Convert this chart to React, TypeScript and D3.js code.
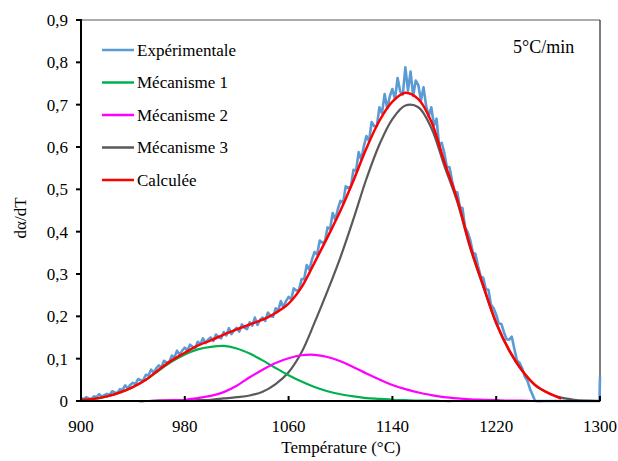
import React from "react";
import * as d3 from "d3";

// ---------- DATA ----------
const xTicks = [900, 980, 1060, 1140, 1220, 1300];
const yTicks = [0, 0.1, 0.2, 0.3, 0.4, 0.5, 0.6, 0.7, 0.8, 0.9];
const yTickLabels = ["0", "0,1", "0,2", "0,3", "0,4", "0,5", "0,6", "0,7", "0,8", "0,9"];

const seriesNames = ["Expérimentale", "Mécanisme 1", "Mécanisme 2", "Mécanisme 3", "Calculée"];
const seriesColors = ["#5B9BD5", "#00B050", "#FF00FF", "#595959", "#FF0000"];

// Temperature grid for model curves (°C)
const modelT = [900, 910, 920, 930, 940, 950, 960, 970, 980, 990,
  1000, 1010, 1020, 1030, 1040, 1050, 1060, 1070, 1080, 1090,
  1100, 1110, 1120, 1130, 1140, 1150, 1160, 1170, 1180, 1190,
  1200, 1210, 1220, 1230, 1240, 1250, 1260, 1270, 1280, 1290, 1300];

const mech1 = [0.002, 0.005, 0.011, 0.020, 0.033, 0.050, 0.072, 0.093, 0.110, 0.122,
  0.128, 0.130, 0.124, 0.112, 0.096, 0.078, 0.061, 0.046, 0.033, 0.023,
  0.016, 0.011, 0.007, 0.005, 0.003, 0.002, 0.001, 0.001, 0, 0,
  0, 0, 0, 0, 0, 0, 0, 0];

const mech2 = [0, 0, 0, 0, 0, 0, 0.001, 0.002, 0.003, 0.007,
  0.012, 0.021, 0.036, 0.056, 0.074, 0.090, 0.101, 0.108, 0.109, 0.104,
  0.094, 0.080, 0.065, 0.051, 0.038, 0.028, 0.020, 0.014, 0.009, 0.006,
  0.004, 0.003, 0.002, 0.001, 0.001, 0, 0, 0];

const mech3 = [0, 0, 0, 0, 0, 0, 0.001, 0.001, 0.001, 0.002,
  0.003, 0.006, 0.009, 0.013, 0.022, 0.040, 0.068, 0.115, 0.185, 0.260,
  0.340, 0.430, 0.525, 0.606, 0.666, 0.698, 0.694, 0.645, 0.556, 0.470,
  0.361, 0.270, 0.183, 0.119, 0.071, 0.037, 0.019, 0.008, 0.003, 0.001, 0];

const calc = [0.003, 0.005, 0.011, 0.020, 0.033, 0.050, 0.074, 0.096, 0.114, 0.131,
  0.143, 0.157, 0.169, 0.181, 0.192, 0.208, 0.230, 0.269, 0.327, 0.387,
  0.450, 0.521, 0.597, 0.662, 0.707, 0.728, 0.713, 0.660, 0.565, 0.476,
  0.365, 0.273, 0.185, 0.120, 0.072, 0.038, 0.019, 0.006];

// Experimental signal, sampled every 2 °C from 900 °C to 1250 °C
const expStart = 900;
const expStep = 2;
const expValues = [
  0.007, 0.004, 0.009, 0.006, 0.005, 0.011, 0.009, 0.016, 0.010, 0.014,
  0.017, 0.014, 0.023, 0.020, 0.019, 0.028, 0.026, 0.037, 0.030, 0.038,
  0.043, 0.040, 0.052, 0.049, 0.049, 0.062, 0.060, 0.074, 0.067, 0.077,
  0.084, 0.079, 0.095, 0.091, 0.092, 0.107, 0.103, 0.119, 0.109, 0.119,
  0.126, 0.120, 0.133, 0.128, 0.126, 0.140, 0.134, 0.148, 0.137, 0.145,
  0.150, 0.142, 0.157, 0.151, 0.148, 0.163, 0.155, 0.172, 0.158, 0.167,
  0.173, 0.164, 0.181, 0.173, 0.170, 0.186, 0.178, 0.197, 0.180, 0.192,
  0.197, 0.189, 0.209, 0.201, 0.199, 0.219, 0.214, 0.236, 0.221, 0.236,
  0.246, 0.240, 0.266, 0.261, 0.262, 0.288, 0.288, 0.321, 0.310, 0.334,
  0.352, 0.346, 0.379, 0.374, 0.377, 0.410, 0.407, 0.444, 0.428, 0.454,
  0.473, 0.468, 0.507, 0.503, 0.507, 0.546, 0.544, 0.588, 0.570, 0.602,
  0.626, 0.614, 0.659, 0.649, 0.649, 0.694, 0.680, 0.725, 0.691, 0.720,
  0.737, 0.713, 0.763, 0.731, 0.724, 0.788, 0.733, 0.778, 0.721, 0.757,
  0.746, 0.710, 0.741, 0.697, 0.673, 0.694, 0.651, 0.667, 0.604, 0.610,
  0.586, 0.553, 0.552, 0.520, 0.494, 0.493, 0.458, 0.456, 0.410, 0.399,
  0.380, 0.351, 0.347, 0.319, 0.295, 0.291, 0.264, 0.263, 0.227, 0.219,
  0.204, 0.183, 0.182, 0.162, 0.146, 0.145, 0.152, 0.123, 0.096, 0.090,
  0.077, 0.058, 0.048, 0.029, 0.015, 0,
];
// tail of the experimental record (flat on the axis, then a final spike)
const expTailT = [1299.6, 1300];
const expTailV = [0, 0.057];

// ---------- CHART ----------
const W = 618;
const H = 461;
const FONT = '"Liberation Serif", "Times New Roman", Times, serif';

export default function App() {
  const x = d3.scaleLinear().domain([900, 1300]).range([81, 600]);
  const y = d3.scaleLinear().domain([0, 0.9]).range([401, 20]);

  const expPts: [number, number][] = expValues.map((v, i) => [expStart + i * expStep, v]);
  expTailT.forEach((t, i) => expPts.push([t, expTailV[i]]));

  const lineLin = d3.line<[number, number]>().x((d) => x(d[0])).y((d) => y(d[1]));
  const lineSmooth = d3
    .line<[number, number]>()
    .x((d) => x(d[0]))
    .y((d) => Math.min(y(0), y(d[1])))
    .curve(d3.curveCatmullRom.alpha(0.5));

  const toPts = (vals: number[]): [number, number][] => vals.map((v, i) => [modelT[i], v]);

  const legendY0 = 50;
  const legendDy = 32.5;
  const txt = { fontFamily: FONT, fontSize: 17, fill: "#000" } as React.CSSProperties;

  return (
    <svg
      width={W}
      height={H}
      style={{ position: "absolute", left: 0, top: 0, background: "#fff" }}
    >
      <rect x={0} y={0} width={W} height={H} fill="#fff" />
      {/* frame top/right */}
      <line x1={x(900)} x2={x(1300)} y1={y(0.9)} y2={y(0.9)} stroke="#595959" strokeWidth={1.2} />
      <line x1={x(1300)} x2={x(1300)} y1={y(0.9)} y2={y(0)} stroke="#262626" strokeWidth={1.2} />

      {/* series */}
      <path d={lineLin(expPts) || ""} fill="none" stroke={seriesColors[0]} strokeWidth={2.6} strokeLinejoin="round" />
      <path d={lineSmooth(toPts(mech3)) || ""} fill="none" stroke={seriesColors[3]} strokeWidth={2.2} />
      <path d={lineSmooth(toPts(mech1)) || ""} fill="none" stroke={seriesColors[1]} strokeWidth={2.2} />
      <path d={lineSmooth(toPts(mech2)) || ""} fill="none" stroke={seriesColors[2]} strokeWidth={2.2} />
      <path d={lineSmooth(toPts(calc)) || ""} fill="none" stroke={seriesColors[4]} strokeWidth={2.5} />

      {/* axes */}
      <line x1={x(900)} x2={x(1300)} y1={y(0)} y2={y(0)} stroke="#000" strokeWidth={2} />
      <line x1={x(900)} x2={x(900)} y1={y(0.9) - 1} y2={y(0) + 1} stroke="#000" strokeWidth={2} />

      {/* y ticks */}
      {yTicks.map((t, i) => (
        <g key={"y" + i}>
          <line x1={x(900) - 5} x2={x(900)} y1={y(t)} y2={y(t)} stroke="#000" strokeWidth={2} />
          <text x={68} y={y(t) + 6} textAnchor="end" style={txt}>
            {yTickLabels[i]}
          </text>
        </g>
      ))}

      {/* x ticks */}
      {xTicks.map((t, i) => (
        <g key={"x" + i}>
          <line x1={x(t)} x2={x(t)} y1={y(0)} y2={y(0) - 5} stroke="#000" strokeWidth={2} />
          <text x={x(t)} y={432} textAnchor="middle" style={txt}>
            {t}
          </text>
        </g>
      ))}

      {/* axis titles */}
      <text x={341} y={453} textAnchor="middle" style={txt}>
        Température (°C)
      </text>
      <text transform={`translate(26, 218) rotate(-90)`} textAnchor="middle" style={txt}>
        dα/dT
      </text>

      {/* legend */}
      {seriesNames.map((n, i) => (
        <g key={"l" + i}>
          <line
            x1={102}
            x2={134}
            y1={legendY0 + i * legendDy}
            y2={legendY0 + i * legendDy}
            stroke={seriesColors[i]}
            strokeWidth={2.5}
          />
          <text x={137} y={legendY0 + i * legendDy + 5.5} style={txt}>
            {n}
          </text>
        </g>
      ))}

      <text x={513} y={53} style={{ ...txt, fontSize: 18 }}>
        5°C/min
      </text>
    </svg>
  );
}
